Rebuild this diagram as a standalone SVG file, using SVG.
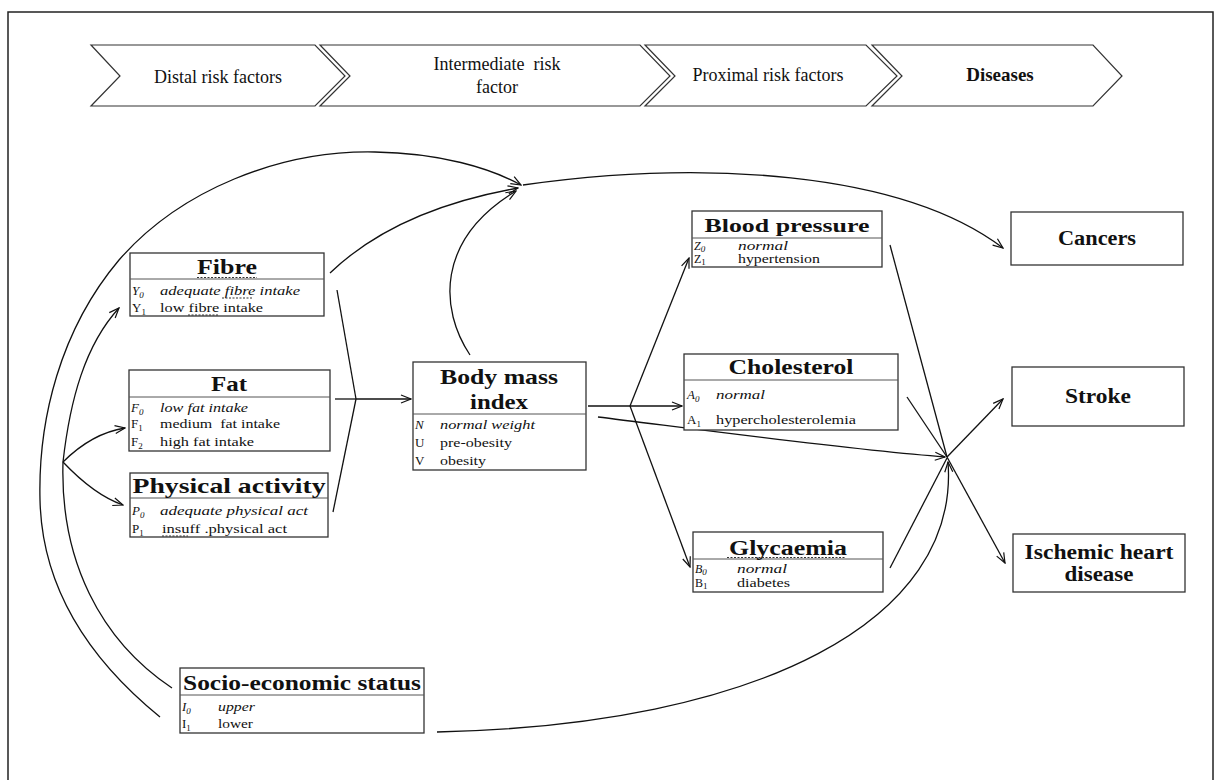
<svg xmlns="http://www.w3.org/2000/svg" width="1222" height="780" viewBox="0 0 1222 780">
<style>
text{font-family:"Liberation Serif","Times New Roman",serif;fill:#111}
.h{font-size:18px}
.hb{font-size:19px;font-weight:bold}
.t{font-size:21px;font-weight:bold;text-anchor:middle}
.d{font-size:20px;font-weight:bold;text-anchor:middle}
.r{font-size:13px}
.rs{font-size:12px}
.i{font-style:italic}
.sb{font-size:9px}
.box{fill:#fff;stroke:#333;stroke-width:1.3}
.sep{stroke:#555;stroke-width:1;fill:none}
.chev{fill:#fff;stroke:#333;stroke-width:1.2}
.c{fill:none;stroke:#111;stroke-width:1.3}
.sq{fill:none;stroke:#333;stroke-width:1.2;stroke-dasharray:2 1.5}
</style>
<defs>
<marker id="a" viewBox="0 0 12 10" refX="11" refY="5" markerWidth="12" markerHeight="10" markerUnits="userSpaceOnUse" orient="auto">
<path d="M1,1 L11,5 L1,9" fill="none" stroke="#111" stroke-width="1.2"/>
</marker>
</defs>
<rect x="0" y="0" width="1222" height="780" fill="#fff"/>
<rect x="8" y="12" width="1205" height="800" fill="none" stroke="#222" stroke-width="1.5"/>

<g id="header">
<path class="chev" d="M91,45 L315,45 L345,76 L315,106 L91,106 L120,76 Z"/>
<path class="chev" d="M320,45 L640,45 L670,76 L640,106 L320,106 L350,76 Z"/>
<path class="chev" d="M645,45 L866,45 L897,76 L866,106 L645,106 L675,76 Z"/>
<path class="chev" d="M872,45 L1093,45 L1122,76 L1093,106 L872,106 L902,76 Z"/>
<text class="h" x="218" y="83" text-anchor="middle">Distal risk factors</text>
<text class="h" x="497" y="70" text-anchor="middle" xml:space="preserve">Intermediate  risk</text>
<text class="h" x="497" y="93" text-anchor="middle">factor</text>
<text class="h" x="768" y="81" text-anchor="middle">Proximal risk factors</text>
<text class="hb" x="1000" y="81" text-anchor="middle">Diseases</text>
</g>

<g id="connectors">
<path class="c" d="M160,717 C90,660 42,590 40,500 C38,420 60,330 119,260 C180,190 280,150 375,152 C440,153 490,168 521,185" marker-end="url(#a)"/>
<path class="c" d="M63,462 C60,560 100,640 172,688"/>
<path class="c" d="M63,462 C70,400 85,345 119,308" marker-end="url(#a)"/>
<path class="c" d="M63,462 C80,445 100,432 125,428" marker-end="url(#a)"/>
<path class="c" d="M63,462 C80,480 100,497 123,505" marker-end="url(#a)"/>
<path class="c" d="M330,273 C380,225 450,200 518,188" marker-end="url(#a)"/>
<path class="c" d="M470,355 C440,310 435,240 516,191" marker-end="url(#a)"/>
<path class="c" d="M523,185 C700,160 900,170 1003,248" marker-end="url(#a)"/>
<path class="c" d="M337,290 L356,399"/>
<path class="c" d="M335,399 L356,399"/>
<path class="c" d="M333,512 L356,399"/>
<path class="c" d="M356,399 L411,399" marker-end="url(#a)"/>
<path class="c" d="M588,406 L630,406"/>
<path class="c" d="M630,406 L689,258" marker-end="url(#a)"/>
<path class="c" d="M630,406 L682,406" marker-end="url(#a)"/>
<path class="c" d="M630,406 L690,567" marker-end="url(#a)"/>
<path class="c" d="M598,417 C680,427 850,450 945,457" marker-end="url(#a)"/>
<path class="c" d="M890,245 L947,457"/>
<path class="c" d="M907,397 L947,457"/>
<path class="c" d="M890,568 L947,458"/>
<path class="c" d="M437,732 C760,725 960,620 948,462" marker-end="url(#a)"/>
<path class="c" d="M947,457 L1003,399" marker-end="url(#a)"/>
<path class="c" d="M947,457 L1005,563" marker-end="url(#a)"/>
</g>

<g id="fibre">
<rect class="box" x="130" y="253" width="194" height="63"/>
<line class="sep" x1="130" y1="279" x2="324" y2="279"/>
<text class="t" x="227" y="274" textLength="60" lengthAdjust="spacingAndGlyphs">Fibre</text>
<path class="sq" d="M197,277.5 L257,277.5"/>
<text class="r i" x="132" y="295">Y<tspan class="sb" dy="3">0</tspan></text>
<text class="r i" x="160" y="295" textLength="140" lengthAdjust="spacingAndGlyphs">adequate fibre intake</text>
<path class="sq" d="M222,298 L252,298"/>
<text class="r" x="132" y="312">Y<tspan class="sb" dy="3">1</tspan></text>
<text class="r" x="160" y="312" textLength="103" lengthAdjust="spacingAndGlyphs">low fibre intake</text>
<path class="sq" d="M188,315 L218,315"/>
</g>

<g id="fat">
<rect class="box" x="129" y="370" width="201" height="81"/>
<line class="sep" x1="129" y1="397" x2="330" y2="397"/>
<text class="t" x="229" y="391" textLength="36" lengthAdjust="spacingAndGlyphs">Fat</text>
<text class="r i" x="131" y="412">F<tspan class="sb" dy="3">0</tspan></text>
<text class="r i" x="160" y="412" textLength="88" lengthAdjust="spacingAndGlyphs">low fat intake</text>
<text class="r" x="131" y="428">F<tspan class="sb" dy="3">1</tspan></text>
<text class="r" x="160" y="428" textLength="120" lengthAdjust="spacingAndGlyphs" xml:space="preserve">medium  fat intake</text>
<text class="r" x="131" y="446">F<tspan class="sb" dy="3">2</tspan></text>
<text class="r" x="160" y="446" textLength="94" lengthAdjust="spacingAndGlyphs">high fat intake</text>
</g>

<g id="physical-activity">
<rect class="box" x="130" y="473" width="198" height="64"/>
<line class="sep" x1="130" y1="498" x2="328" y2="498"/>
<text class="t" x="229" y="493" textLength="193" lengthAdjust="spacingAndGlyphs">Physical activity</text>
<text class="r i" x="132" y="515">P<tspan class="sb" dy="3">0</tspan></text>
<text class="r i" x="160" y="515" textLength="148" lengthAdjust="spacingAndGlyphs">adequate physical act</text>
<text class="r" x="132" y="533">P<tspan class="sb" dy="3">1</tspan></text>
<text class="r" x="162" y="533" textLength="125" lengthAdjust="spacingAndGlyphs">insuff .physical act</text>
<path class="sq" d="M162,536 L188,536"/>
</g>

<g id="bmi">
<rect class="box" x="413" y="362" width="173" height="108"/>
<line class="sep" x1="413" y1="414" x2="586" y2="414"/>
<text class="t" x="499" y="384" textLength="118" lengthAdjust="spacingAndGlyphs">Body mass</text>
<text class="t" x="499" y="409" textLength="58" lengthAdjust="spacingAndGlyphs">index</text>
<text class="r i" x="415" y="429">N</text>
<text class="r i" x="440" y="429" textLength="95" lengthAdjust="spacingAndGlyphs">normal weight</text>
<text class="r" x="415" y="447">U</text>
<text class="r" x="440" y="447" textLength="72" lengthAdjust="spacingAndGlyphs">pre-obesity</text>
<text class="r" x="415" y="465">V</text>
<text class="r" x="440" y="465" textLength="46" lengthAdjust="spacingAndGlyphs">obesity</text>
</g>

<g id="blood-pressure">
<rect class="box" x="692" y="211" width="190" height="56"/>
<line class="sep" x1="692" y1="238" x2="882" y2="238"/>
<text class="t" x="787" y="232" style="font-size:19px" textLength="165" lengthAdjust="spacingAndGlyphs">Blood pressure</text>
<text class="rs i" x="694" y="250">Z<tspan class="sb" dy="2">0</tspan></text>
<text class="rs i" x="738" y="250" textLength="50" lengthAdjust="spacingAndGlyphs">normal</text>
<text class="rs" x="694" y="263">Z<tspan class="sb" dy="2">1</tspan></text>
<text class="rs" x="738" y="263" textLength="82" lengthAdjust="spacingAndGlyphs">hypertension</text>
</g>

<g id="cholesterol">
<rect class="box" x="684" y="354" width="214" height="76"/>
<line class="sep" x1="684" y1="380" x2="898" y2="380"/>
<text class="t" x="791" y="374" textLength="125" lengthAdjust="spacingAndGlyphs">Cholesterol</text>
<text class="r i" x="687" y="399">A<tspan class="sb" dy="3">0</tspan></text>
<text class="r i" x="716" y="399" textLength="49" lengthAdjust="spacingAndGlyphs">normal</text>
<text class="r" x="687" y="424">A<tspan class="sb" dy="3">1</tspan></text>
<text class="r" x="716" y="424" textLength="140" lengthAdjust="spacingAndGlyphs">hypercholesterolemia</text>
</g>

<g id="glycaemia">
<rect class="box" x="693" y="532" width="190" height="60"/>
<line class="sep" x1="693" y1="559" x2="883" y2="559"/>
<text class="t" x="788" y="555" style="font-size:20px" textLength="118" lengthAdjust="spacingAndGlyphs">Glycaemia</text>
<path class="sq" d="M727,557.5 L845,557.5"/>
<text class="rs i" x="695" y="573">B<tspan class="sb" dy="2">0</tspan></text>
<text class="rs i" x="737" y="573" textLength="50" lengthAdjust="spacingAndGlyphs">normal</text>
<text class="rs" x="695" y="587">B<tspan class="sb" dy="2">1</tspan></text>
<text class="rs" x="737" y="587" textLength="53" lengthAdjust="spacingAndGlyphs">diabetes</text>
</g>

<g id="socio-economic-status">
<rect class="box" x="180" y="668" width="244" height="65"/>
<line class="sep" x1="180" y1="695" x2="424" y2="695"/>
<text class="t" x="302" y="690" textLength="238" lengthAdjust="spacingAndGlyphs">Socio-economic status</text>
<text class="r i" x="182" y="711">I<tspan class="sb" dy="3">0</tspan></text>
<text class="r i" x="218" y="711" textLength="37" lengthAdjust="spacingAndGlyphs">upper</text>
<text class="r" x="182" y="728">I<tspan class="sb" dy="3">1</tspan></text>
<text class="r" x="218" y="728" textLength="35" lengthAdjust="spacingAndGlyphs">lower</text>
</g>

<g id="cancers">
<rect class="box" x="1011" y="212" width="172" height="53"/>
<text class="d" x="1097" y="245" textLength="78" lengthAdjust="spacingAndGlyphs">Cancers</text>
</g>
<g id="stroke">
<rect class="box" x="1012" y="367" width="172" height="59"/>
<text class="d" x="1098" y="403" textLength="66" lengthAdjust="spacingAndGlyphs">Stroke</text>
</g>
<g id="ischemic-heart-disease">
<rect class="box" x="1013" y="534" width="172" height="58"/>
<text class="d" x="1099" y="559" textLength="149" lengthAdjust="spacingAndGlyphs">Ischemic heart</text>
<text class="d" x="1099" y="581" textLength="69" lengthAdjust="spacingAndGlyphs">disease</text>
</g>
</svg>
